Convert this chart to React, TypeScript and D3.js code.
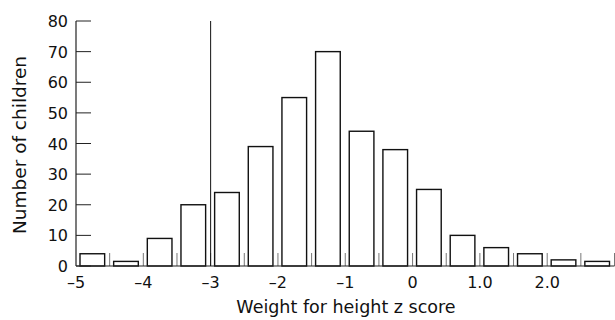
import React, { useRef, useEffect } from 'react';
import * as d3 from 'd3';

// bins of width 0.5 on the weight-for-height z score
const binStarts = [-5, -4.5, -4, -3.5, -3, -2.5, -2, -1.5, -1, -0.5, 0, 0.5, 1, 1.5, 2, 2.5];
const counts = [4, 1.5, 9, 20, 24, 39, 55, 70, 44, 38, 25, 10, 6, 4, 2, 1.5];
const yTicks = [0, 10, 20, 30, 40, 50, 60, 70, 80];
const xTickValues = [-5, -4, -3, -2, -1, 0, 1, 2];
const xTickLabels = ['–5', '–4', '–3', '–2', '–1', '0', '1.0', '2.0'];
const cutoff = -3;

const W = 615;
const H = 320;
const FONT = '"DejaVu Sans", sans-serif';

const App = () => {
  const svgRef = useRef<SVGSVGElement>(null);

  useEffect(() => {
    const x = d3.scaleLinear().domain([-5, 3]).range([76, 614.5]);
    const y = d3.scaleLinear().domain([0, 80]).range([266, 21]);

    const svg = d3.select(svgRef.current).attr('width', W).attr('height', H).html('');
    svg.append('rect').attr('width', W).attr('height', H).attr('fill', '#fff');

    // half-unit ticks standing up from the x axis
    const half = d3.range(-4.5, 3.01, 0.5);
    svg.selectAll('.htick')
      .data(half)
      .enter()
      .append('line')
        .attr('x1', d => x(d))
        .attr('x2', d => x(d))
        .attr('y1', y(0))
        .attr('y2', y(0) - 13)
        .attr('stroke', '#777')
        .attr('stroke-width', 1);

    // Bars
    svg.selectAll('.bar')
      .data(binStarts)
      .enter()
      .append('rect')
        .attr('x', d => x(d) + 4)
        .attr('y', (d, i) => y(counts[i]))
        .attr('width', d => x(d + 0.5) - x(d) - 9)
        .attr('height', (d, i) => y(0) - y(counts[i]))
        .attr('fill', '#fff')
        .attr('stroke', '#111')
        .attr('stroke-width', 1.4);

    // Axes lines
    svg.append('line')
      .attr('x1', x(-5)).attr('x2', x(3))
      .attr('y1', y(0)).attr('y2', y(0))
      .attr('stroke', '#222').attr('stroke-width', 1.2);
    svg.append('line')
      .attr('x1', x(-5)).attr('x2', x(-5))
      .attr('y1', y(0)).attr('y2', y(80))
      .attr('stroke', '#222').attr('stroke-width', 1.2);

    // y ticks
    svg.selectAll('.ytick')
      .data(yTicks)
      .enter()
      .append('line')
        .attr('x1', x(-5))
        .attr('x2', x(-5) + 15)
        .attr('y1', d => y(d))
        .attr('y2', d => y(d))
        .attr('stroke', '#222')
        .attr('stroke-width', 1);
    svg.selectAll('.ylab')
      .data(yTicks)
      .enter()
      .append('text')
        .attr('x', 68)
        .attr('y', d => y(d) + 6)
        .attr('text-anchor', 'end')
        .attr('font-family', FONT)
        .attr('font-size', 16)
        .attr('fill', '#111')
        .text(d => d);

    // x tick labels
    svg.selectAll('.xlab')
      .data(xTickValues)
      .enter()
      .append('text')
        .attr('x', d => x(d))
        .attr('y', 288)
        .attr('text-anchor', 'middle')
        .attr('font-family', FONT)
        .attr('font-size', 16)
        .attr('fill', '#111')
        .text((d, i) => xTickLabels[i]);

    // cut-off line at -3
    svg.append('line')
      .attr('x1', x(cutoff)).attr('x2', x(cutoff))
      .attr('y1', y(0)).attr('y2', y(80))
      .attr('stroke', '#111').attr('stroke-width', 1);

    // Titles
    svg.append('text')
      .attr('x', 346)
      .attr('y', 313)
      .attr('text-anchor', 'middle')
      .attr('font-family', FONT)
      .attr('font-size', 17.5)
      .attr('fill', '#111')
      .text('Weight for height z score');
    svg.append('text')
      .attr('transform', 'translate(26,145) rotate(-90)')
      .attr('text-anchor', 'middle')
      .attr('font-family', FONT)
      .attr('font-size', 18.5)
      .attr('fill', '#111')
      .text('Number of children');
  }, []);

  return <svg ref={svgRef} style={{ position: 'absolute', left: 0, top: 0 }} />;
};

export default App;
